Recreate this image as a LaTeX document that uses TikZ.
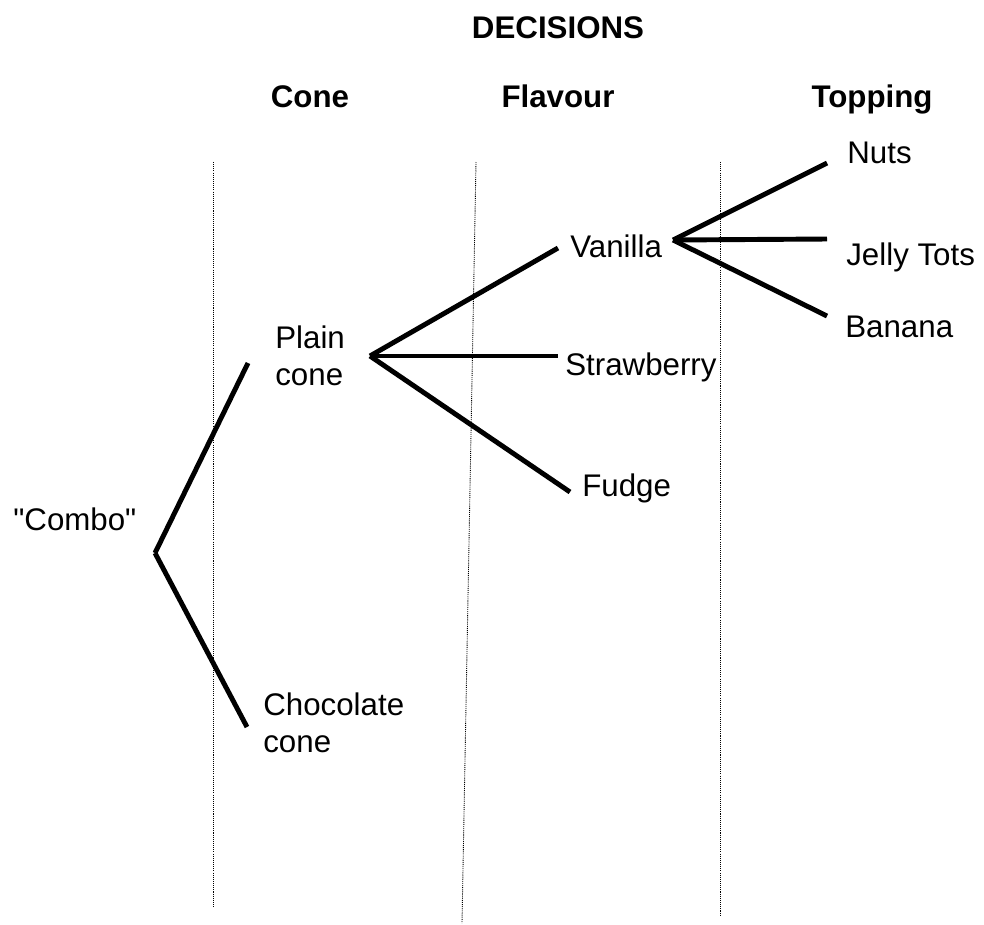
\documentclass[tikz,border=0pt]{standalone}
\usepackage{fontspec}
\setmainfont{Liberation Sans}[Ligatures=TeXOff]
\usepackage{tikz}
\usetikzlibrary{positioning}

\begin{document}
\begin{tikzpicture}[
    x=0.02cm, y=-0.02cm,
    lbl/.style={inner sep=0pt, anchor=base west, align=left, font=\fontsize{17.8}{21}\selectfont},
    head/.style={inner sep=0pt, anchor=base, font=\fontsize{17.8}{21}\selectfont\bfseries},
    branch/.style={line width=2.8pt},
    guide/.style={line width=0.5pt, dash pattern=on 0.6pt off 0.6pt}
]
    \useasboundingbox (0,0) rectangle (984,924);

    % Headings
    \node[head] (title) at (558,38) {DECISIONS};
    \node[head] (hcone) at (310,107) {Cone};
    \node[head] (hflav) at (558,107) {Flavour};
    \node[head] (htop) at (872,107) {Topping};

    % Column guides
    \coordinate (g1t) at (213,162); \coordinate (g1b) at (213,908);
    \coordinate (g2t) at (476,162); \coordinate (g2b) at (462,923);
    \coordinate (g3t) at (720,162); \coordinate (g3b) at (720,915);
    \foreach \a/\b in {g1t/g1b, g2t/g2b, g3t/g3b} {
        \draw[guide] (\a) -- (\b);
    }

    % Choices (multi-line ones sit on the baseline of their last line)
    \node[lbl] (combo) at (13,530) {"Combo"};
    \node[lbl] (plain) at (275,385) {Plain\\cone};
    \node[lbl] (choc) at (263,752) {Chocolate\\cone};
    \node[lbl] (vanilla) at (570,257) {Vanilla};
    \node[lbl] (straw) at (565,375) {Strawberry};
    \node[lbl] (fudge) at (582,496) {Fudge};
    \node[lbl] (nuts) at (847,163) {Nuts};
    \node[lbl] (jelly) at (846,265) {Jelly Tots};
    \node[lbl] (banana) at (845,337) {Banana};

    % Branch points
    \coordinate (cv) at (155,553);
    \coordinate (pe) at (248,363);
    \coordinate (ce) at (247,727);
    \coordinate (pv) at (370,356);
    \coordinate (ve) at (558,248);
    \coordinate (se) at (558,356);
    \coordinate (fe) at (570,492);
    \coordinate (vv) at (673,240);
    \coordinate (ne) at (827,163);
    \coordinate (je) at (827,239);
    \coordinate (be) at (827,316);

    % Branches
    \foreach \a/\b in {cv/pe, cv/ce, pv/ve, pv/se, pv/fe, vv/ne, vv/je, vv/be} {
        \draw[branch] (\a) -- (\b);
    }
\end{tikzpicture}
\end{document}
